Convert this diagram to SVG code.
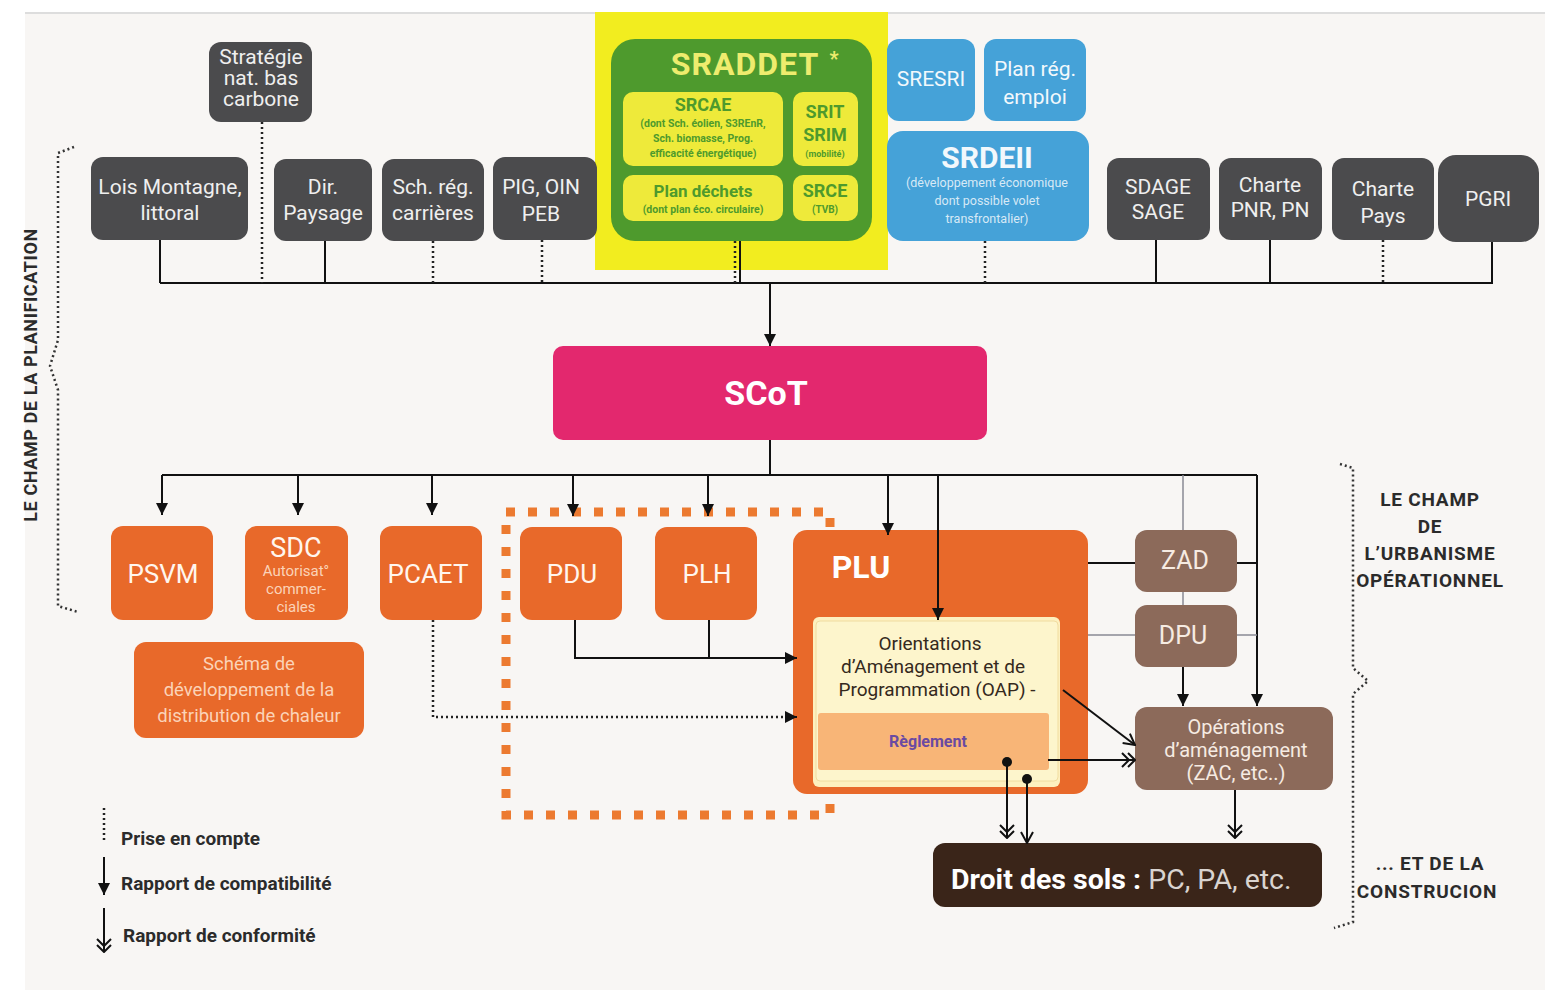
<svg xmlns="http://www.w3.org/2000/svg" width="1555" height="990" viewBox="0 0 1555 990">
<style>
text{font-family:Roboto,"Liberation Sans",sans-serif}
.dk{fill:#4b4b4d}
.dkt{fill:#efefef;font-size:21px;text-anchor:middle}
.bl{fill:#45a2d8}
.blt{fill:#f2f8fc;text-anchor:middle}
.or{fill:#e8692a}
.ort{fill:#fff6ee;text-anchor:middle}
.ors{fill:#fbd3b8;text-anchor:middle}
.br{fill:#8c6a5a}
.brt{fill:#f6ebe2;text-anchor:middle}
.gt{fill:#4e9a2d;text-anchor:middle}
.yb{fill:#eeea3a}
.ln{stroke:#111;stroke-width:2;fill:none}
.dt{stroke:#222;stroke-width:2.5;fill:none;stroke-dasharray:2 3}
.gr{stroke:#8a8a95;stroke-width:1.5;fill:none}
.lg{fill:#2b2b2b;font-size:19px;font-weight:bold}
.rt{fill:#2b2b2b;font-size:19px;font-weight:bold;text-anchor:middle;letter-spacing:0.8px}
</style>
<defs>
<marker id="arr" viewBox="0 0 10 10" refX="10" refY="5" markerWidth="12" markerHeight="12" markerUnits="userSpaceOnUse" orient="auto"><path d="M0,0 L10,5 L0,10 z" fill="#111"/></marker>
<marker id="dbl" viewBox="0 0 16 16" refX="15" refY="8" markerWidth="16" markerHeight="16" markerUnits="userSpaceOnUse" orient="auto"><path d="M2,1 L9,8 L2,15 M8,1 L15,8 L8,15" fill="none" stroke="#111" stroke-width="2"/></marker>
<marker id="opn" viewBox="0 0 14 14" refX="13" refY="7" markerWidth="14" markerHeight="14" markerUnits="userSpaceOnUse" orient="auto"><path d="M2,1 L13,7 L2,13" fill="none" stroke="#111" stroke-width="2"/></marker>
</defs>
<rect width="1555" height="990" fill="#ffffff"/>
<rect x="25" y="14" width="1520" height="976" fill="#f8f6f4"/>
<line x1="25" y1="13" x2="1545" y2="13" stroke="#dddddd" stroke-width="2"/>

<g id="bg-highlight"><rect x="595" y="12" width="293" height="258" fill="#f2ed1f"/></g>

<g id="strategie"><rect class="dk" x="209" y="42" width="103" height="80" rx="12"/>
<text class="dkt" font-size="16.5" x="261" y="64">Stratégie</text><text class="dkt" font-size="16.5" x="261" y="85">nat. bas</text><text class="dkt" font-size="16.5" x="261" y="106">carbone</text></g>
<g id="lois"><rect class="dk" x="91" y="157" width="157" height="83" rx="12"/>
<text class="dkt" x="170" y="194">Lois Montagne,</text><text class="dkt" x="170" y="220">littoral</text></g>
<g id="paysage"><rect class="dk" x="274" y="159" width="98" height="82" rx="12"/>
<text class="dkt" x="323" y="194">Dir.</text><text class="dkt" x="323" y="220">Paysage</text></g>
<g id="carrieres"><rect class="dk" x="382" y="159" width="102" height="82" rx="12"/>
<text class="dkt" x="433" y="194">Sch. rég.</text><text class="dkt" x="433" y="220">carrières</text></g>
<g id="pig"><rect class="dk" x="493" y="157" width="104" height="83" rx="12"/>
<text class="dkt" x="541" y="194">PIG, OIN</text><text class="dkt" x="541" y="221">PEB</text></g>

<g id="sraddet">
<rect x="611" y="39" width="261" height="202" rx="24" fill="#4e9a2d"/>
<text x="745" y="75" font-size="32" font-weight="bold" fill="#eeec6e" text-anchor="middle" letter-spacing="1">SRADDET</text>
<text x="834" y="66" font-size="20" font-weight="bold" fill="#eeec6e" text-anchor="middle">*</text>
<g id="srcae"><rect class="yb" x="623" y="92" width="160" height="74" rx="10"/>
<text class="gt" x="703" y="111" font-size="18" font-weight="bold">SRCAE</text>
<text class="gt" x="703" y="127" font-size="10.5" font-weight="bold">(dont Sch. éolien, S3REnR,</text>
<text class="gt" x="703" y="142" font-size="10.5" font-weight="bold">Sch. biomasse, Prog.</text>
<text class="gt" x="703" y="157" font-size="10.5" font-weight="bold">efficacité énergétique)</text></g>
<g id="srit"><rect class="yb" x="793" y="92" width="65" height="74" rx="10"/>
<text class="gt" x="825" y="118" font-size="18" font-weight="bold">SRIT</text>
<text class="gt" x="825" y="141" font-size="18" font-weight="bold">SRIM</text>
<text class="gt" x="825" y="157" font-size="9" font-weight="bold">(mobilité)</text></g>
<g id="dechets"><rect class="yb" x="623" y="175" width="160" height="46" rx="10"/>
<text class="gt" x="703" y="197" font-size="17" font-weight="bold">Plan déchets</text>
<text class="gt" x="703" y="213" font-size="10.5" font-weight="bold">(dont plan éco. circulaire)</text></g>
<g id="srce"><rect class="yb" x="793" y="175" width="65" height="46" rx="10"/>
<text class="gt" x="825" y="197" font-size="18" font-weight="bold">SRCE</text>
<text class="gt" x="825" y="213" font-size="10" font-weight="bold">(TVB)</text></g>
</g>

<g id="sresri"><rect class="bl" x="887" y="39" width="88" height="82" rx="12"/>
<text class="blt" x="931" y="86" font-size="21">SRESRI</text></g>
<g id="planemploi"><rect class="bl" x="984" y="39" width="102" height="82" rx="12"/>
<text class="blt" x="1035" y="76" font-size="21">Plan rég.</text><text class="blt" x="1035" y="104" font-size="21">emploi</text></g>
<g id="srdeii"><rect class="bl" x="887" y="131" width="202" height="110" rx="16"/>
<text class="blt" x="987" y="168" font-size="30" font-weight="bold">SRDEII</text>
<text class="blt" x="987" y="187" font-size="12.5" fill-opacity="0.85">(développement économique</text>
<text class="blt" x="987" y="205" font-size="12.5" fill-opacity="0.85">dont possible volet</text>
<text class="blt" x="987" y="223" font-size="12.5" fill-opacity="0.85">transfrontalier)</text></g>

<g id="sdage"><rect class="dk" x="1107" y="158" width="103" height="82" rx="12"/>
<text class="dkt" x="1158" y="194">SDAGE</text><text class="dkt" x="1158" y="219">SAGE</text></g>
<g id="pnr"><rect class="dk" x="1219" y="158" width="103" height="82" rx="12"/>
<text class="dkt" x="1270" y="192">Charte</text><text class="dkt" x="1270" y="217">PNR, PN</text></g>
<g id="pays"><rect class="dk" x="1332" y="158" width="102" height="82" rx="12"/>
<text class="dkt" x="1383" y="196">Charte</text><text class="dkt" x="1383" y="223">Pays</text></g>
<g id="pgri"><rect class="dk" x="1438" y="155" width="101" height="87" rx="18"/>
<text class="dkt" x="1488" y="206" font-size="23">PGRI</text></g>

<g id="scot"><rect x="553" y="346" width="434" height="94" rx="10" fill="#e3286e"/>
<text x="766" y="405" font-size="34" font-weight="bold" fill="#fff" text-anchor="middle">SCoT</text></g>

<g id="psvm"><rect class="or" x="111" y="526" width="102" height="94" rx="12"/>
<text class="ort" x="163" y="583" font-size="26">PSVM</text></g>
<g id="sdc"><rect class="or" x="245" y="526" width="103" height="94" rx="12"/>
<text class="ort" x="296" y="557" font-size="27">SDC</text>
<text class="ors" x="296" y="576" font-size="15">Autorisat°</text>
<text class="ors" x="296" y="594" font-size="15">commer-</text>
<text class="ors" x="296" y="612" font-size="15">ciales</text></g>
<g id="pcaet"><rect class="or" x="380" y="526" width="102" height="94" rx="12"/>
<text class="ort" x="428" y="583" font-size="26">PCAET</text></g>
<g id="schema"><rect class="or" x="134" y="642" width="230" height="96" rx="12"/>
<text class="ors" x="249" y="670" font-size="18.5">Schéma de</text>
<text class="ors" x="249" y="696" font-size="18.5">développement de la</text>
<text class="ors" x="249" y="722" font-size="18.5">distribution de chaleur</text></g>
<g id="pdu"><rect class="or" x="520" y="527" width="102" height="93" rx="12"/>
<text class="ort" x="572" y="583" font-size="26">PDU</text></g>
<g id="plh"><rect class="or" x="655" y="527" width="102" height="93" rx="12"/>
<text class="ort" x="707" y="583" font-size="26">PLH</text></g>

<g id="perimetre"><rect x="506" y="512" width="324" height="303" fill="none" stroke="#ec7a30" stroke-width="9" stroke-dasharray="9 13"/></g>

<g id="plu"><rect class="or" x="793" y="530" width="295" height="264" rx="14"/>
<text x="861" y="578" font-size="32" font-weight="bold" fill="#fff" text-anchor="middle">PLU</text>
<rect x="813" y="617" width="247" height="170" rx="6" fill="#fdf0bf"/>
<rect x="816" y="621" width="242" height="160" rx="4" fill="#fdf5cc" stroke="#f0dca0" stroke-width="1"/>
<g id="oap"><text x="930" y="650" font-size="19" fill="#35291d" text-anchor="middle">Orientations</text>
<text x="933" y="673" font-size="19" fill="#35291d" text-anchor="middle">d’Aménagement et de</text>
<text x="937" y="696" font-size="19" fill="#35291d" text-anchor="middle">Programmation (OAP) -</text></g>
<g id="reglement"><rect x="818" y="713" width="231" height="57" rx="3" fill="#f8b577"/>
<text x="928" y="747" font-size="16" font-weight="bold" fill="#6a4aa2" text-anchor="middle">Règlement</text></g>
</g>

<g id="zad"><rect class="br" x="1135" y="530" width="102" height="62" rx="12"/>
<text class="brt" x="1185" y="569" font-size="25">ZAD</text></g>
<g id="dpu"><rect class="br" x="1135" y="605" width="102" height="62" rx="12"/>
<text class="brt" x="1183" y="644" font-size="25">DPU</text></g>
<g id="operations"><rect class="br" x="1135" y="707" width="198" height="83" rx="12"/>
<text class="brt" x="1236" y="734" font-size="20">Opérations</text>
<text class="brt" x="1236" y="757" font-size="20">d’aménagement</text>
<text class="brt" x="1236" y="780" font-size="20">(ZAC, etc..)</text></g>

<g id="droit"><rect x="933" y="843" width="389" height="64" rx="12" fill="#3a2519"/>
<text x="951" y="889" font-size="28.5" fill="#ffffff"><tspan font-weight="bold">Droit des sols :</tspan><tspan fill="#d9d4d0"> PC, PA, etc.</tspan></text></g>

<g id="connectors">
<line class="ln" x1="160" y1="283" x2="1493" y2="283"/>
<line class="ln" x1="160" y1="240" x2="160" y2="283"/>
<line class="dt" x1="262" y1="122" x2="262" y2="283"/>
<line class="ln" x1="325" y1="241" x2="325" y2="283"/>
<line class="dt" x1="433" y1="241" x2="433" y2="283"/>
<line class="dt" x1="542" y1="240" x2="542" y2="283"/>
<line class="dt" x1="735" y1="241" x2="735" y2="283"/>
<line class="ln" x1="740" y1="241" x2="740" y2="283"/>
<line class="dt" x1="985" y1="241" x2="985" y2="283"/>
<line class="ln" x1="1156" y1="240" x2="1156" y2="283"/>
<line class="ln" x1="1270" y1="240" x2="1270" y2="283"/>
<line class="dt" x1="1383" y1="240" x2="1383" y2="283"/>
<line class="ln" x1="1492" y1="242" x2="1492" y2="283"/>
<line class="ln" x1="770" y1="283" x2="770" y2="346" marker-end="url(#arr)"/>
<line class="ln" x1="770" y1="440" x2="770" y2="475"/>
<line class="ln" x1="162" y1="475" x2="1257" y2="475"/>
<line class="ln" x1="162" y1="475" x2="162" y2="515" marker-end="url(#arr)"/>
<line class="ln" x1="298" y1="475" x2="298" y2="515" marker-end="url(#arr)"/>
<line class="ln" x1="432" y1="475" x2="432" y2="515" marker-end="url(#arr)"/>
<line class="ln" x1="573" y1="475" x2="573" y2="516" marker-end="url(#arr)"/>
<line class="ln" x1="708" y1="475" x2="708" y2="516" marker-end="url(#arr)"/>
<line class="ln" x1="888" y1="475" x2="888" y2="535" marker-end="url(#arr)"/>
<line class="ln" x1="938" y1="475" x2="938" y2="620" marker-end="url(#arr)"/>
<line class="gr" x1="1183" y1="475" x2="1183" y2="530"/>
<line class="gr" x1="1183" y1="592" x2="1183" y2="605"/>
<line class="ln" x1="1257" y1="475" x2="1257" y2="706" marker-end="url(#arr)"/>
<line class="ln" x1="1183" y1="667" x2="1183" y2="706" marker-end="url(#arr)"/>
<line class="ln" x1="1088" y1="563" x2="1135" y2="563"/>
<line class="ln" x1="1237" y1="563" x2="1257" y2="563"/>
<line class="gr" x1="1088" y1="635" x2="1135" y2="635"/>
<line class="gr" x1="1237" y1="635" x2="1257" y2="635"/>
<polyline class="ln" points="575,620 575,658 797,658" marker-end="url(#arr)"/>
<line class="ln" x1="709" y1="620" x2="709" y2="658"/>
<polyline class="dt" points="433,620 433,717 787,717"/>
<line class="ln" x1="786" y1="717" x2="797" y2="717" marker-end="url(#arr)"/>
<line class="ln" x1="1063" y1="690" x2="1135" y2="745" marker-end="url(#opn)"/>
<line class="ln" x1="1048" y1="760" x2="1135" y2="760" marker-end="url(#dbl)"/>
<line class="ln" x1="1007" y1="762" x2="1007" y2="838" marker-end="url(#dbl)"/>
<circle cx="1007" cy="762" r="5" fill="#111"/>
<line class="ln" x1="1027" y1="779" x2="1027" y2="843" marker-end="url(#opn)"/>
<circle cx="1027" cy="779" r="5" fill="#111"/>
<line class="ln" x1="1235" y1="790" x2="1235" y2="838" marker-end="url(#dbl)"/>
</g>

<g id="brace-left" fill="none" stroke="#333" stroke-width="2.5" stroke-dasharray="2 3">
<polyline points="74,147 58,153 58,340 50,366 58,390 58,606 78,612"/>
</g>
<text transform="translate(37,375) rotate(-90)" font-size="18" font-weight="bold" fill="#2b2b2b" text-anchor="middle" letter-spacing="0.6">LE CHAMP DE LA PLANIFICATION</text>

<g id="brace-right" fill="none" stroke="#333" stroke-width="2.5" stroke-dasharray="2 3">
<polyline points="1340,464 1353,468 1353,668 1368,681 1353,694 1353,922 1334,928"/>
</g>
<g id="labels-right">
<text class="rt" x="1430" y="506">LE CHAMP</text>
<text class="rt" x="1430" y="533">DE</text>
<text class="rt" x="1430" y="560">L’URBANISME</text>
<text class="rt" x="1430" y="587">OPÉRATIONNEL</text>
<text class="rt" x="1430" y="870">... ET DE LA</text>
<text class="rt" x="1427" y="898">CONSTRUCION</text>
</g>

<g id="legend">
<line class="dt" x1="104" y1="808" x2="104" y2="842"/>
<text class="lg" x="121" y="845">Prise en compte</text>
<line class="ln" x1="104" y1="857" x2="104" y2="895" marker-end="url(#arr)"/>
<text class="lg" x="121" y="890">Rapport de compatibilité</text>
<line class="ln" x1="104" y1="908" x2="104" y2="952" marker-end="url(#dbl)"/>
<text class="lg" x="123" y="942">Rapport de conformité</text>
</g>
</svg>
